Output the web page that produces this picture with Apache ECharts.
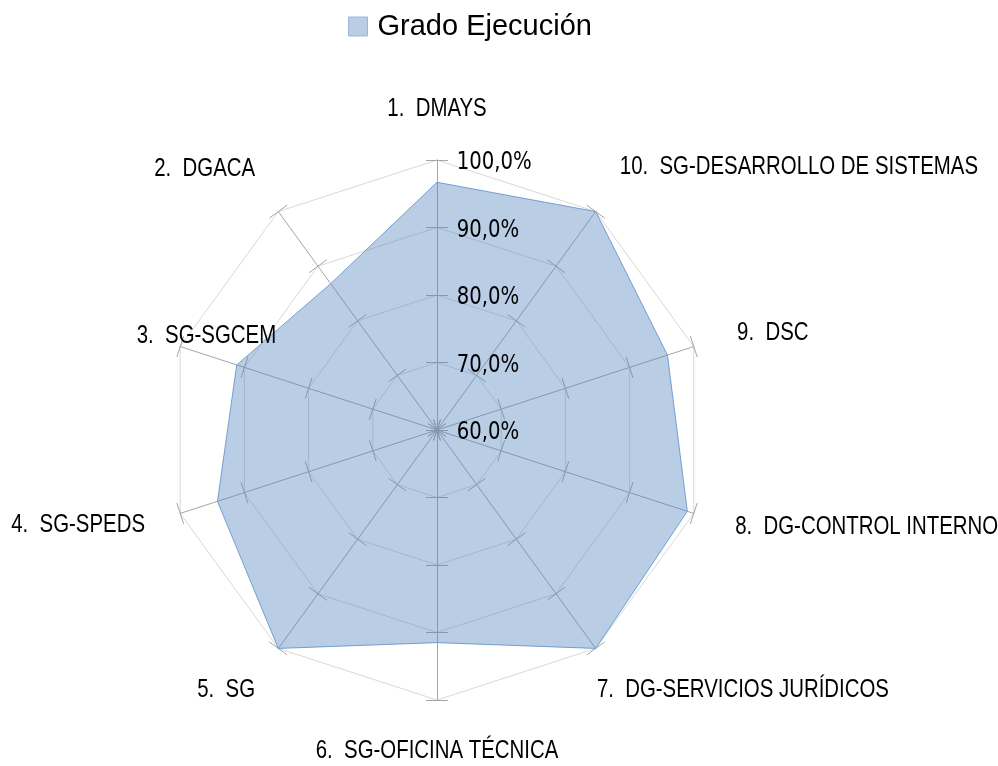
<!DOCTYPE html>
<html><head><meta charset="utf-8">
<script src="https://cdn.jsdelivr.net/npm/echarts@6/dist/echarts.min.js"></script>
<style>html,body{margin:0;padding:0;background:#fff}#c{width:998px;height:766px}</style>
</head><body><div id="c"></div>
<script>
const categories = ['1.  DMAYS','2.  DGACA','3.  SG-SGCEM','4.  SG-SPEDS','5.  SG','6.  SG-OFICINA TÉCNICA','7.  DG-SERVICIOS JURÍDICOS','8.  DG-CONTROL INTERNO','9.  DSC','10.  SG-DESARROLLO DE SISTEMAS'];
const gradoEjecucion = [96.7, 86.8, 91.2, 94.2, 100, 91.5, 100, 99.0, 95.9, 100];
const seriesName = 'Grado Ejecución';
const axisMin = 60;
const axisMax = 100;
const tickLabels = ['60,0%','70,0%','80,0%','90,0%','100,0%'];

// label placement (style only): gap from outer ring, alignment, vertical shift via lineHeight
const nameLayout = [
  {gap:51,    align:'center', va:'middle', lh:26},
  {gap:39.5,  align:'right',  va:'bottom', lh:21},
  {gap:-27.6, align:'center', va:'bottom', lh:38},
  {gap:37,    align:'right',  va:'middle', lh:26},
  {gap:39.5,  align:'right',  va:'top',    lh:19},
  {gap:51,    align:'center', va:'middle', lh:26},
  {gap:2,     align:'left',   va:'top',    lh:80},
  {gap:43.5,  align:'left',   va:'middle', lh:26},
  {gap:45.5,  align:'left',   va:'middle', lh:26},
  {gap:41,    align:'left',   va:'bottom', lh:23}
];
const nameFont = '"Liberation Sans",Arial,sans-serif';
const nameScale = 0.80;
const tickScale = 0.82;

const gridIndicator = categories.map(() => ({name: '', min: axisMin, max: axisMax}));
const labelIndicator = categories.map((name, i) => {
  const o = {
    name: name, min: axisMin, max: axisMax,
    nameGap: nameLayout[i].gap,
    nameTextStyle: {align: nameLayout[i].align, verticalAlign: nameLayout[i].va, lineHeight: nameLayout[i].lh}
  };
  if (i === 0) o.axisLabel = {show: true};
  return o;
});

const common = {center: [437, 430], radius: 270, startAngle: 90, shape: 'polygon', splitNumber: 4};
const tickLine = {color: '#a6a6a6', width: 1};

const chart = echarts.init(document.getElementById('c'), null, {renderer: 'canvas'});
chart.setOption({
  animation: false,
  backgroundColor: '#fff',
  legend: {
    data: [{name: seriesName, itemStyle: {color: '#b9cde5', borderColor: '#9bb7d9', borderWidth: 1}}],
    left: 343, top: 7,
    icon: 'rect', itemWidth: 19, itemHeight: 19,
    textStyle: {fontSize: 29, color: '#000', fontFamily: '"Liberation Sans",sans-serif', padding: [0,0,0,5]}
  },
  radar: [
    Object.assign({}, common, {
      z: 1,
      indicator: gridIndicator,
      axisName: {show: false},
      axisLine: {lineStyle: {color: '#a6a6a6', width: 1}},
      splitLine: {lineStyle: {color: '#d9d9d9', width: 1}},
      splitArea: {show: false},
      axisTick: {show: true, length: 11, lineStyle: tickLine},
      axisLabel: {show: false}
    }),
    Object.assign({}, common, {
      z: 1,
      indicator: gridIndicator,
      axisName: {show: false},
      axisLine: {show: false},
      splitLine: {show: false},
      splitArea: {show: false},
      axisTick: {show: true, length: -11, lineStyle: tickLine},
      axisLabel: {show: false}
    }),
    Object.assign({}, common, {
      z: 10,
      indicator: labelIndicator,
      axisName: {color: '#000', fontSize: 25.5, fontFamily: nameFont},
      axisLine: {show: false},
      splitLine: {show: false},
      splitArea: {show: false},
      axisTick: {show: false},
      axisLabel: {
        show: false, color: '#000', fontSize: 24, fontFamily: '"DejaVu Sans",sans-serif',
        margin: -19.7, align: 'left', verticalAlign: 'top', lineHeight: 6,
        formatter: v => tickLabels[Math.round((v - axisMin) / 10)] || ''
      }
    })
  ],
  series: [{
    type: 'radar', name: seriesName, radarIndex: 0, z: 5,
    symbol: 'none',
    lineStyle: {color: '#7fa8d6', width: 1},
    areaStyle: {color: '#4f81bd', opacity: 0.4},
    itemStyle: {color: '#b9cde5'},
    data: [{value: gradoEjecucion, name: seriesName}]
  }]
});

// Narrow the label glyphs horizontally (the original uses a condensed typeface)
(function narrowTexts() {
  const zr = chart.getZr();
  const nameSet = new Set(categories);
  const tickSet = new Set(tickLabels);
  const visit = el => {
    if (el && el.type === 'text' && el.style) {
      if (nameSet.has(el.style.text)) { el.scaleX = nameScale; el.markRedraw(); }
      else if (tickSet.has(el.style.text)) { el.scaleX = tickScale; el.markRedraw(); }
    }
  };
  zr.storage.getRoots().forEach(root => {
    visit(root);
    if (root.traverse) root.traverse(visit);
  });
  zr.refreshImmediately();
})();
</script></body></html>
